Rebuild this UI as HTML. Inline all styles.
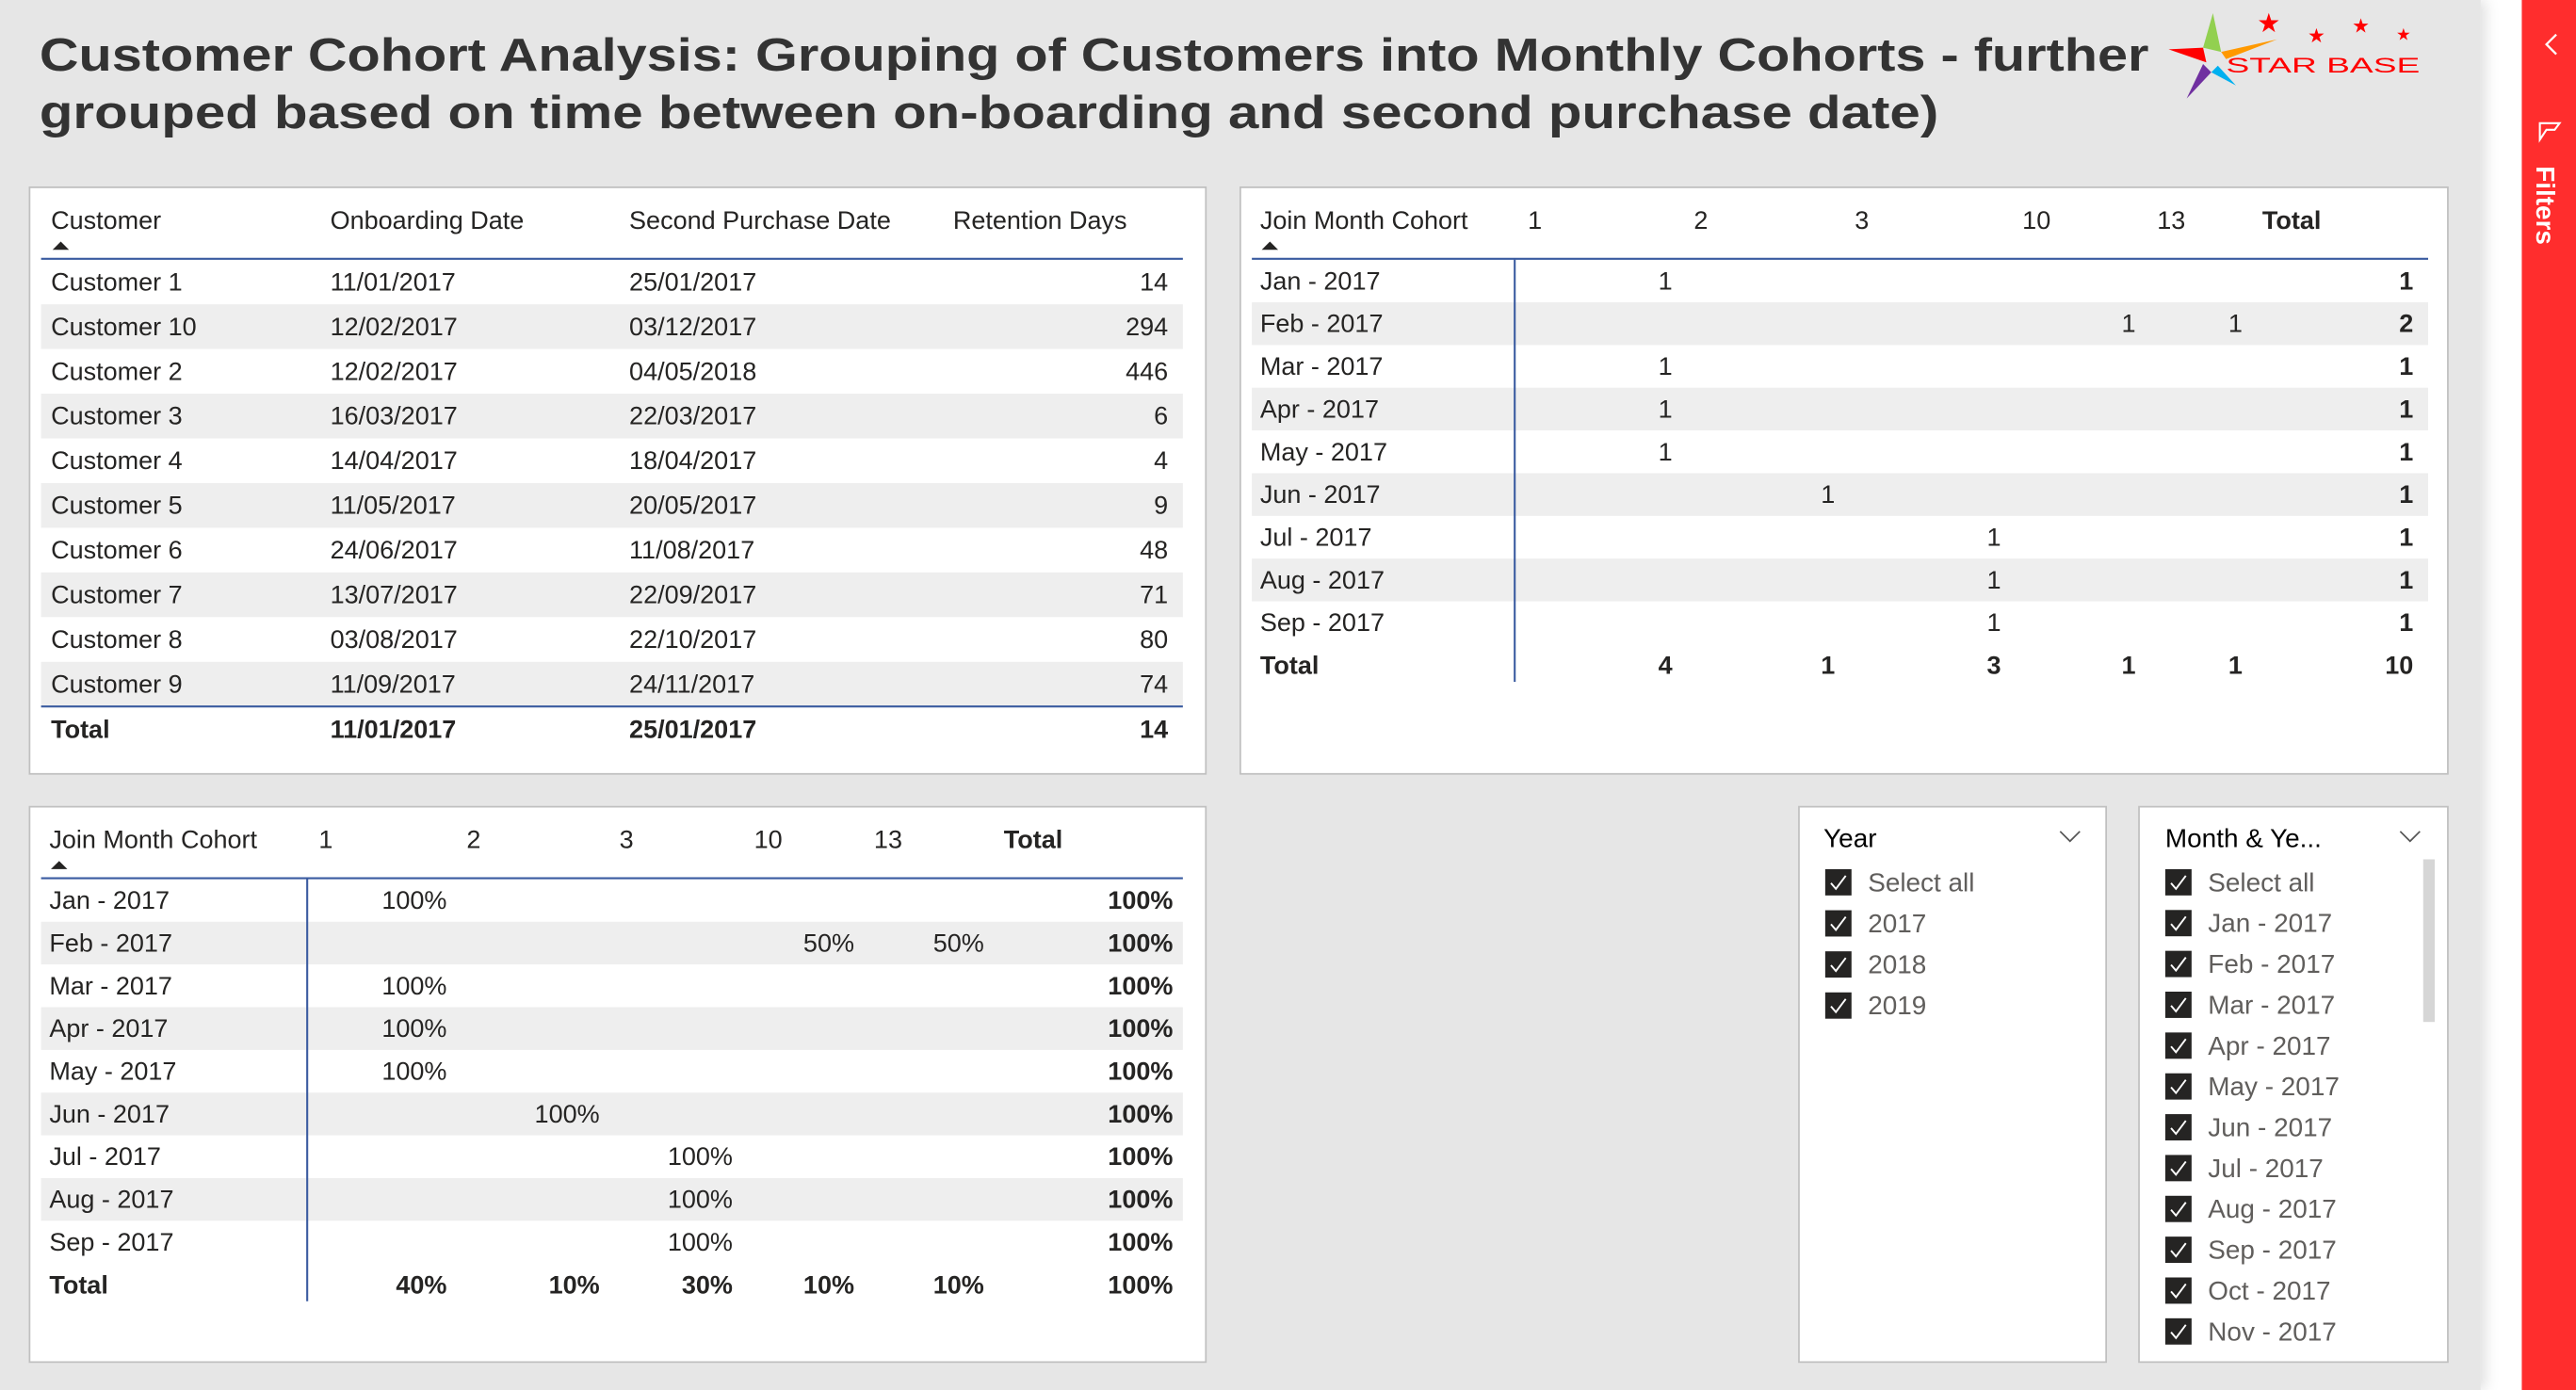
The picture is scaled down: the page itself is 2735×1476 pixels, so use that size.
<!DOCTYPE html>
<html><head><meta charset="utf-8">
<style>
html,body{margin:0;padding:0;width:2735px;height:1476px;overflow:hidden;background:#fff}
svg{display:block;font-family:"Liberation Sans",sans-serif}
</style></head>
<body>
<svg id="root" width="2735" height="1476" viewBox="0 0 1568 846" preserveAspectRatio="none">
<defs><filter id="sh" x="-5%" y="-5%" width="110%" height="110%"><feDropShadow dx="3" dy="0" stdDeviation="4" flood-opacity="0.12"/></filter></defs>
<rect x="0" y="0" width="1568" height="846" fill="#ffffff"/>
<rect x="0" y="0" width="1510" height="846" fill="#e6e6e6" filter="url(#sh)"/>
<g font-weight="bold" font-size="28" fill="#333">
<text x="24" y="43" textLength="1284" lengthAdjust="spacingAndGlyphs">Customer Cohort Analysis: Grouping of Customers into Monthly Cohorts - further</text>
<text x="24" y="78" textLength="1156" lengthAdjust="spacingAndGlyphs">grouped based on time between on-boarding and second purchase date)</text>
</g>
<g>
<polygon points="1347,8 1341,29 1352,31.6" fill="#92d050"/>
<polygon points="1386,24 1352,31.6 1355,36" fill="#ff9900"/>
<polygon points="1320,30 1341,29 1343,38" fill="#ff0000"/>
<polygon points="1331,60 1341,39 1346,44" fill="#7030a0"/>
<polygon points="1361,52 1346,44 1350,40" fill="#00b0f0"/>
<text x="1355" y="44" font-size="12.5" fill="#ff0000" textLength="118" lengthAdjust="spacingAndGlyphs">STAR BASE</text>
<text x="1381" y="14" font-size="16" fill="#ff0000" text-anchor="middle" dominant-baseline="central">★</text>
<text x="1410" y="22" font-size="12" fill="#ff0000" text-anchor="middle" dominant-baseline="central">★</text>
<text x="1437" y="16" font-size="12" fill="#ff0000" text-anchor="middle" dominant-baseline="central">★</text>
<text x="1463" y="21" font-size="10" fill="#ff0000" text-anchor="middle" dominant-baseline="central">★</text>
</g>
<g>
<rect x="1535" y="0" width="33" height="846" fill="#ff2d2d"/>
<polyline points="1556,21 1550,27 1556,33" fill="none" stroke="#fff" stroke-width="1.3"/>
<polygon points="1547,74 1557,74 1557,86 1553,83 1553,78" fill="none" stroke="#fff" stroke-width="1.2" transform="rotate(-90 1552 80)"/>
<text x="1548" y="125" font-size="16" font-weight="bold" fill="#fff" text-anchor="middle" transform="rotate(90 1548 125)" dominant-baseline="middle">Filters</text>
</g>
<g id="p1"><rect x="18" y="114" width="716" height="357" fill="#fff" stroke="#c0c0c0"/></g>
<g id="p2"><rect x="755" y="114" width="735" height="357" fill="#fff" stroke="#c0c0c0"/></g>
<g id="p3"><rect x="18" y="491" width="716" height="338" fill="#fff" stroke="#c0c0c0"/></g>
<g id="s1"><rect x="1095" y="491" width="187" height="338" fill="#fff" stroke="#c0c0c0"/></g>
<g id="s2"><rect x="1302" y="491" width="188" height="338" fill="#fff" stroke="#c0c0c0"/>
<rect x="1475" y="523" width="7" height="99" fill="#d6d6d6"/></g>
</svg>
<script>
const customers=["Customer 1","Customer 10","Customer 2","Customer 3","Customer 4","Customer 5","Customer 6","Customer 7","Customer 8","Customer 9"];
const onboard=["11/01/2017","12/02/2017","12/02/2017","16/03/2017","14/04/2017","11/05/2017","24/06/2017","13/07/2017","03/08/2017","11/09/2017"];
const second=["25/01/2017","03/12/2017","04/05/2018","22/03/2017","18/04/2017","20/05/2017","11/08/2017","22/09/2017","22/10/2017","24/11/2017"];
const retention=[14,294,446,6,4,9,48,71,80,74];
const cohorts=["Jan - 2017","Feb - 2017","Mar - 2017","Apr - 2017","May - 2017","Jun - 2017","Jul - 2017","Aug - 2017","Sep - 2017"];
const buckets=["1","2","3","10","13"];
const counts=[[1,0,0,0,0],[0,0,0,1,1],[1,0,0,0,0],[1,0,0,0,0],[1,0,0,0,0],[0,1,0,0,0],[0,0,1,0,0],[0,0,1,0,0],[0,0,1,0,0]];
const years=["Select all","2017","2018","2019"];
const months=["Select all","Jan - 2017","Feb - 2017","Mar - 2017","Apr - 2017","May - 2017","Jun - 2017","Jul - 2017","Aug - 2017","Sep - 2017","Oct - 2017","Nov - 2017"];

const NS="http://www.w3.org/2000/svg";
function el(parent,tag,attrs,txt){const e=document.createElementNS(NS,tag);for(const k in attrs)e.setAttribute(k,attrs[k]);if(txt!==undefined)e.textContent=txt;parent.appendChild(e);return e;}
function txt(p,x,y,s,o){o=o||{};return el(p,"text",{x:x,y:y,"font-size":o.fs||15.5,fill:o.fill||"#252423","font-weight":o.bold?"bold":"normal","text-anchor":o.anchor||"start","dominant-baseline":"central"},s);}

// Panel 1
const p1=document.getElementById("p1");
const h1=[["Customer",31],["Onboarding Date",201],["Second Purchase Date",383]];
h1.forEach(h=>{const t=txt(p1,h[1],134,h[0]);});
const rh=txt(p1,686,134,"Retention Days",{anchor:"end"});


el(p1,"polygon",{points:"32,152 37,147 42,152",fill:"#252423"});
el(p1,"line",{x1:25,y1:157.5,x2:720,y2:157.5,stroke:"#3a5ba0","stroke-width":1.2});
const rowH1=27.2;
customers.forEach((c,i)=>{
  const top=158+i*rowH1, cy=top+rowH1/2;
  if(i%2===1){el(p1,"rect",{x:25,y:top,width:695,height:rowH1,fill:"#eeeeee"});}
  const g=el(p1,"g",{});
  
  
  txt(g,31,cy,c);txt(g,201,cy,onboard[i]);txt(g,383,cy,second[i]);txt(g,711,cy,String(retention[i]),{anchor:"end"});
});
el(p1,"line",{x1:25,y1:430,x2:720,y2:430,stroke:"#3a5ba0","stroke-width":1.2});
txt(p1,31,444,"Total",{bold:true});txt(p1,201,444,onboard[0],{bold:true});txt(p1,383,444,second[0],{bold:true});
txt(p1,711,444,String(retention[0]),{bold:true,anchor:"end"});

// Matrices
const colTot=buckets.map((b,j)=>counts.reduce((s,r)=>s+r[j],0));
const grand=colTot.reduce((a,b)=>a+b,0);
function matrix(p,cfg,pct){
  txt(p,cfg.lx,cfg.hy,"Join Month Cohort");
  buckets.forEach((b,j)=>txt(p,cfg.hx[j],cfg.hy,b));
  txt(p,cfg.totX,cfg.hy,"Total",{bold:true});
  el(p,"polygon",{points:`${cfg.lx+1},${cfg.hy+18} ${cfg.lx+6},${cfg.hy+13} ${cfg.lx+11},${cfg.hy+18}`,fill:"#252423"});
  el(p,"line",{x1:cfg.x0,y1:cfg.hy+23.5,x2:cfg.x1,y2:cfg.hy+23.5,stroke:"#3a5ba0","stroke-width":1.2});
  const top0=cfg.hy+24;
  cohorts.forEach((c,i)=>{
    const top=top0+i*cfg.rh, cy=top+cfg.rh/2;
    if(i%2===1)el(p,"rect",{x:cfg.x0,y:top,width:cfg.x1-cfg.x0,height:cfg.rh,fill:"#eeeeee"});
    const g=el(p,"g",{});
    
    
    txt(g,cfg.lx,cy,c);
    const rt=counts[i].reduce((a,b)=>a+b,0);
    counts[i].forEach((v,j)=>{if(v)txt(g,cfg.vx[j],cy,pct?Math.round(v/rt*100)+"%":String(v),{anchor:"end"});});
    txt(g,cfg.tx,cy,pct?"100%":String(rt),{anchor:"end",bold:true});
  });
  const ty=top0+cohorts.length*cfg.rh+cfg.rh/2;
  txt(p,cfg.lx,ty,"Total",{bold:true});
  colTot.forEach((v,j)=>txt(p,cfg.vx[j],ty,pct?Math.round(v/grand*100)+"%":String(v),{anchor:"end",bold:true}));
  txt(p,cfg.tx,ty,pct?"100%":String(grand),{anchor:"end",bold:true});
  el(p,"line",{x1:cfg.vl,y1:top0,x2:cfg.vl,y2:ty+10,stroke:"#3a5ba0","stroke-width":1.2});
}
matrix(document.getElementById("p2"),{lx:767,hy:134,hx:[930,1031,1129,1231,1313],totX:1377,x0:762,x1:1478,rh:26,vx:[1018,1117,1218,1300,1365],tx:1469,vl:922},false);
matrix(document.getElementById("p3"),{lx:30,hy:511,hx:[194,284,377,459,532],totX:611,x0:25,x1:720,rh:26,vx:[272,365,446,520,599],tx:714,vl:187},true);

// Slicers
function slicer(p,title,tx,chevX,items,cbx,sp){
  txt(p,tx,510,title,{fill:"#000",fs:16});
  const ch=el(p,"polyline",{points:`${chevX-6},506 ${chevX},512 ${chevX+6},506`,fill:"none",stroke:"#555","stroke-width":1});
  
  
  items.forEach((it,i)=>{
    const cy=537+i*sp;
    const g=el(p,"g",{});
    
    
    el(g,"rect",{x:cbx,y:cy-8,width:16,height:16,fill:"#252423"});
    el(g,"polyline",{points:`${cbx+3.5},${cy+0.5} ${cbx+6.5},${cy+4} ${cbx+12.5},${cy-4}`,fill:"none",stroke:"#fff","stroke-width":1.1});
    txt(g,cbx+26,cy,it,{fill:"#605e5c",fs:16});
  });
}
slicer(document.getElementById("s1"),"Year",1110,1260,years,1111,25);
slicer(document.getElementById("s2"),"Month & Ye...",1318,1467,months,1318,24.85);
</script>
</body></html>
